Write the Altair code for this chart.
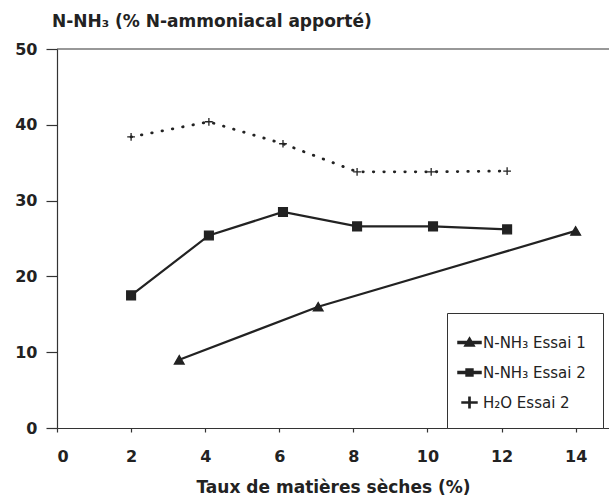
import altair as alt
import pandas as pd

# Series: ammoniacal nitrogen loss vs. dry-matter content
series_names = ["N-NH₃ Essai 1", "N-NH₃ Essai 2", "H₂O Essai 2"]

essai1_x = [3.3, 7.05, 14.0]
essai1_y = [9.0, 16.0, 26.0]

essai2_x = [2.0, 4.1, 6.1, 8.1, 10.15, 12.15]
essai2_y = [17.5, 25.4, 28.5, 26.6, 26.6, 26.2]

h2o_x = [2.0, 4.1, 6.1, 8.1, 10.1, 12.15]
h2o_y = [38.4, 40.4, 37.5, 33.8, 33.8, 33.9]

x_ticks = [0, 2, 4, 6, 8, 10, 12, 14]
y_ticks = [0, 10, 20, 30, 40, 50]

rows = []
for name, xs, ys in zip(series_names, [essai1_x, essai2_x, h2o_x], [essai1_y, essai2_y, h2o_y]):
    for xv, yv in zip(xs, ys):
        rows.append({"serie": name, "x": xv, "y": yv})
df = pd.DataFrame(rows)

W, H = 552, 379
INK = "#222222"
AXIS = "#333333"
FONT = "DejaVu Sans"

x_scale = alt.Scale(domain=[0, 14.9], nice=False, zero=False)
y_scale = alt.Scale(domain=[0, 50], nice=False)

x_enc = alt.X(
    "x:Q",
    scale=x_scale,
    axis=alt.Axis(
        values=x_ticks,
        format="d",
        title="Taux de matières sèches (%)",
        titleFontSize=17,
        tickSize=4,
        labelPadding=16,
        titlePadding=15,
    ),
)
y_enc = alt.Y(
    "y:Q",
    scale=y_scale,
    axis=alt.Axis(values=y_ticks, format="d", title=None, tickSize=11, labelPadding=9),
)

base = alt.Chart(df)

solid_lines = (
    base.transform_filter(alt.FieldOneOfPredicate(field="serie", oneOf=series_names[:2]))
    .mark_line(color=INK, strokeWidth=2.2)
    .encode(x=x_enc, y=y_enc, detail="serie:N")
)

dotted_line = (
    base.transform_filter(alt.datum.serie == series_names[2])
    .mark_line(color=INK, strokeWidth=2.8, strokeDash=[0.5, 10], strokeCap="round")
    .encode(x=x_enc, y=y_enc)
)

plot_shapes = ["triangle-up", "square", "M-1,0H1M0,-1V1"]
points = base.mark_point(
    filled=False, fill=INK, stroke=INK, strokeWidth=1.3, opacity=1
).encode(
    x=x_enc,
    y=y_enc,
    shape=alt.Shape("serie:N", scale=alt.Scale(domain=series_names, range=plot_shapes), legend=None),
    size=alt.Size("serie:N", scale=alt.Scale(domain=series_names, range=[95, 60, 190]), legend=None),
)

# Legend symbols drawn as filled outlines: marker plus a short line through it
legend_shapes = [
    "M-1,-0.08H1V0.08H-1Z M0,-0.42L0.42,0.3L-0.42,0.3Z",
    "M-1,-0.08H1V0.08H-1Z M-0.3,-0.3H0.3V0.3H-0.3Z",
    "M-0.65,-0.05H0.65V0.05H-0.65Z M-0.05,-0.45H0.05V0.45H-0.05Z",
]
legend_layer = base.mark_point(
    filled=False, fill=INK, stroke=INK, strokeWidth=1.4, size=0
).encode(
    x=x_enc,
    y=y_enc,
    shape=alt.Shape(
        "serie:N",
        scale=alt.Scale(domain=series_names, range=legend_shapes),
        legend=alt.Legend(
            title=None,
            orient="none",
            legendX=390,
            legendY=264,
            strokeColor=AXIS,
            fillColor="white",
            padding=17,
            rowPadding=9,
            symbolSize=529,
            symbolOffset=-7,
            symbolFillColor=INK,
            symbolOpacity=1,
            labelFont=FONT,
            labelFontSize=15,
            labelColor=INK,
            labelOffset=1,
        ),
    ),
)

top_frame = alt.Chart(pd.DataFrame({"y": [50]})).mark_rule(color=AXIS, strokeWidth=1.2).encode(
    y=alt.Y("y:Q", scale=y_scale), x=alt.value(0), x2=alt.value(W)
)

chart = (
    alt.layer(top_frame, solid_lines, dotted_line, points, legend_layer)
    .resolve_scale(shape="independent", size="independent")
    .properties(
        width=W,
        height=H,
        autosize=alt.AutoSizeParams(type="none"),
        padding={"left": 57, "top": 49, "right": 0, "bottom": 72},
        background="white",
        title=alt.TitleParams(
            text="N-NH₃ (% N-ammoniacal apporté)",
            anchor="start",
            frame="group",
            orient="top",
            dx=-5,
            dy=25,
            offset=22,
            baseline="alphabetic",
            font=FONT,
            fontSize=17,
            fontWeight="bold",
            color=INK,
        ),
    )
    .configure_view(stroke=None)
    .configure_axis(
        grid=False,
        domainColor=AXIS,
        domainWidth=1.2,
        tickColor=AXIS,
        tickWidth=1.2,
        labelFont=FONT,
        labelFontWeight="bold",
        labelFontSize=16,
        labelColor=INK,
        titleFont=FONT,
        titleFontWeight="bold",
        titleColor=INK,
    )
)

chart.save("out.html", embed_options={"renderer": "svg", "actions": False})
